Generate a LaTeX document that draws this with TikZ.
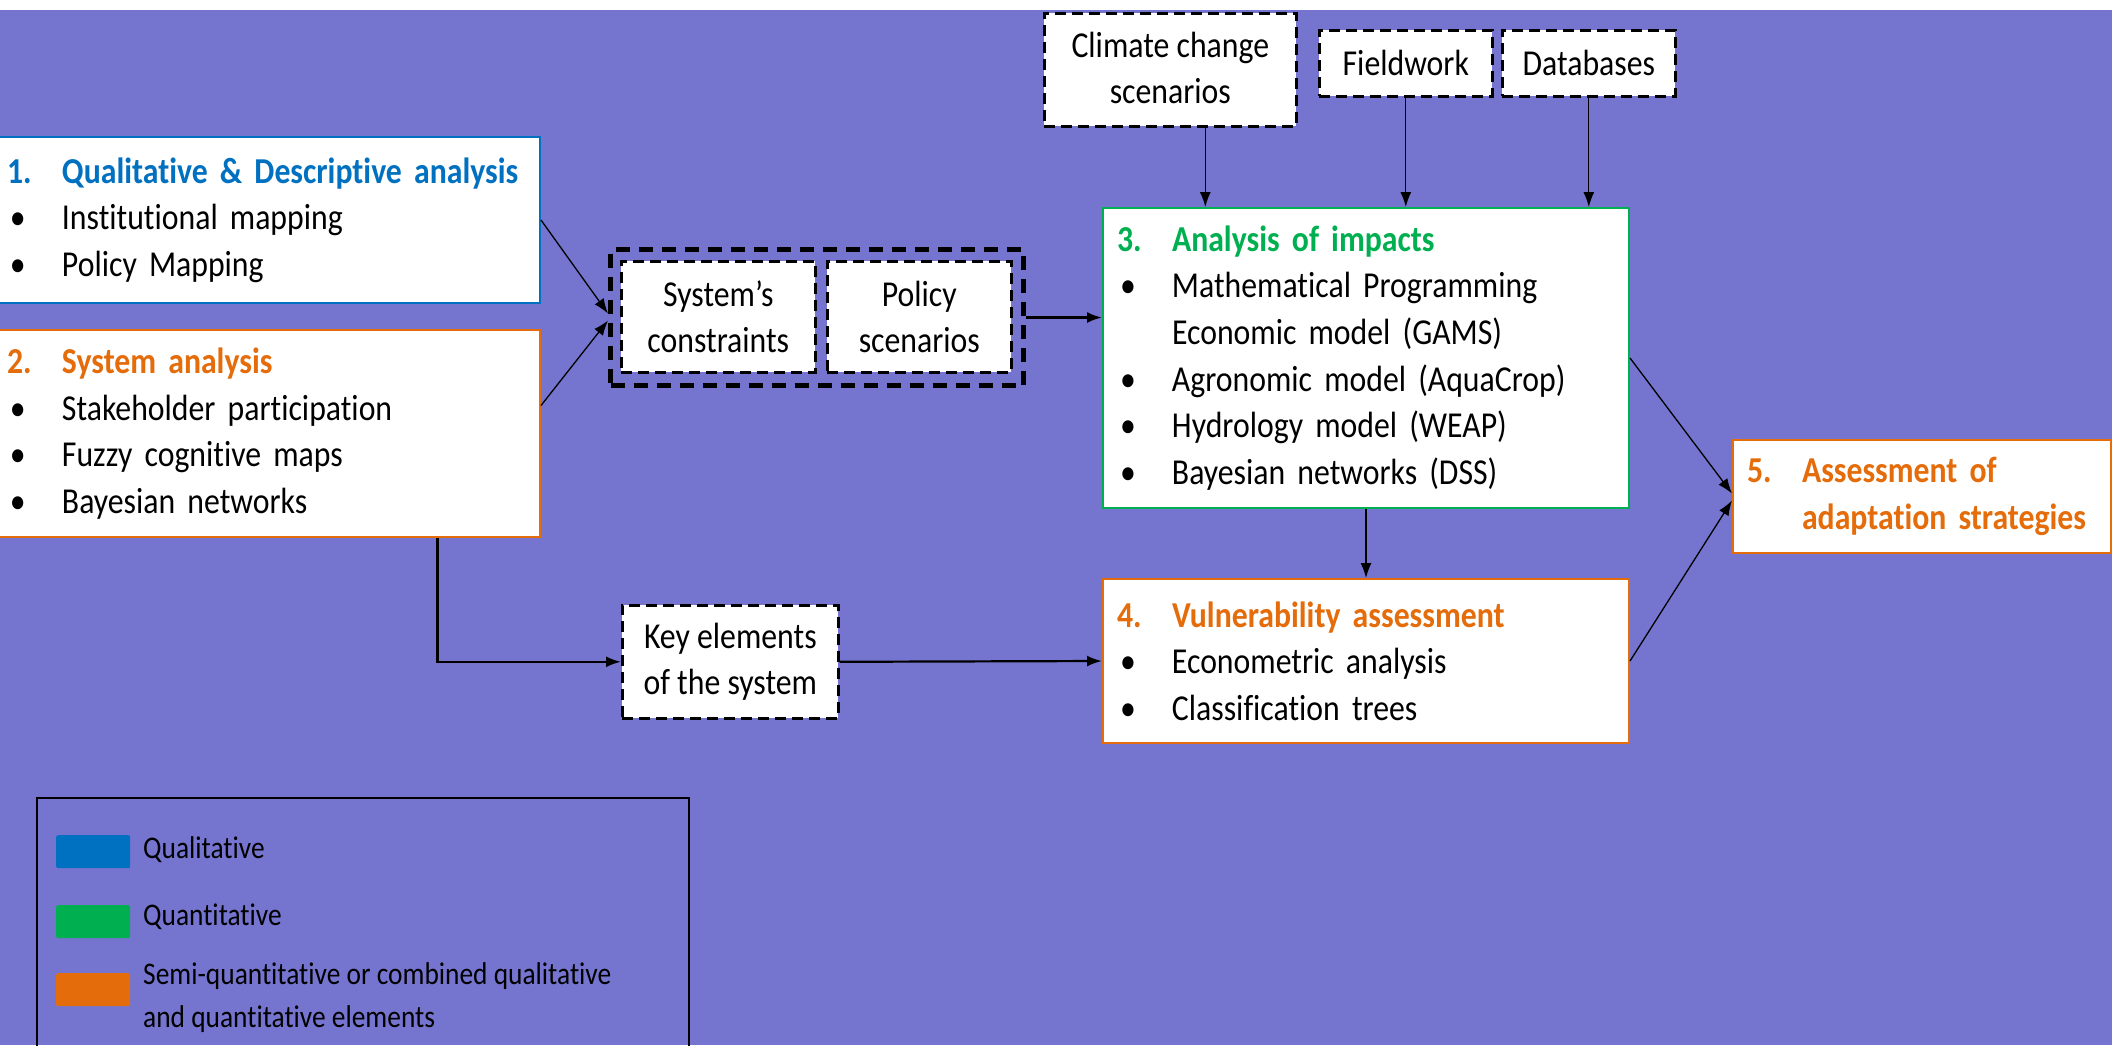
\documentclass[tikz,border=0pt]{standalone}
\usepackage{fontspec}
\setmainfont{Carlito}[FakeStretch=0.87, Ligatures={TeX,NoCommon}]
\usetikzlibrary{arrows.meta}

\definecolor{bgpurple}{RGB}{117,117,208}
\definecolor{qualblue}{RGB}{0,112,192}
\definecolor{quantgreen}{RGB}{0,176,80}
\definecolor{semiorange}{RGB}{228,108,10}

\newcommand{\bodysize}{\fontsize{36.5}{46.6}\selectfont}
\newcommand{\legendsize}{\fontsize{31.5}{43}\selectfont}
\newcommand{\numitem}[2]{\makebox[55pt][l]{#1}#2}
\newcommand{\bullitem}[1]{\makebox[55pt][l]{\hspace{3pt}\textbullet}#1}

\begin{document}
\begin{tikzpicture}[
    x=1pt, y=-1pt,
    block/.style={draw, line width=2pt, fill=white, rectangle, anchor=north west, align=left, inner xsep=14pt, inner ysep=0pt, font=\bodysize},
    inbox/.style={draw, line width=2.6pt, dash pattern=on 11pt off 6pt, fill=white, rectangle, anchor=north west, align=center, inner sep=0pt, font=\bodysize},
    groupbox/.style={draw, line width=5pt, dash pattern=on 14pt off 9pt, rectangle, anchor=north west, inner sep=0pt},
    swatch/.style={rectangle, rounded corners=2pt, anchor=north west, minimum width=74pt, minimum height=33pt, inner sep=0pt},
    legtext/.style={anchor=west, align=left, inner sep=0pt, font=\legendsize},
    line/.style={draw, line width=1.3pt, -{Latex[length=15pt,width=11pt]}},
    thickline/.style={draw, line width=2.2pt, -{Latex[length=15pt,width=11pt]}}
]

\useasboundingbox (0,0) rectangle (2112,1045);
\fill[white] (0,0) rectangle (2112,1045);
\fill[bgpurple] (0,10) rectangle (2112,1045);

\node[block, draw=qualblue, text width=519pt, minimum height=166pt] (qual) at (-8,136) {\textbf{\color{qualblue}\numitem{1.}{Qualitative \& Descriptive analysis}}\\\bullitem{Institutional mapping}\\\bullitem{Policy Mapping}};
\node[block, draw=semiorange, text width=519pt, minimum height=207pt] (sysa) at (-8,329) {\textbf{\color{semiorange}\numitem{2.}{System analysis}}\\\bullitem{Stakeholder participation}\\\bullitem{Fuzzy cognitive maps}\\\bullitem{Bayesian networks}};

\node[groupbox, minimum width=413pt, minimum height=136pt] (grp) at (608,247) {};
\node[inbox, minimum width=194pt, minimum height=111pt] (sysc) at (620,260) {System's\\constraints};
\node[inbox, minimum width=184pt, minimum height=111pt] (pol) at (826,260) {Policy\\scenarios};

\node[inbox, minimum width=252pt, minimum height=113pt] (clim) at (1043,12) {\raisebox{4pt}{Climate change}\\\raisebox{4pt}{scenarios}};
\node[inbox, minimum width=173pt, minimum height=66pt] (field) at (1318,29) {Fieldwork};
\node[inbox, minimum width=173pt, minimum height=66pt] (db) at (1501,29) {Databases};

\node[block, draw=quantgreen, text width=498pt, minimum height=300pt] (impact) at (1102,207) {\textbf{\color{quantgreen}\numitem{3.}{Analysis of impacts}}\\\bullitem{Mathematical Programming}\\\numitem{}{Economic model (GAMS)}\\\bullitem{Agronomic model (AquaCrop)}\\\bullitem{Hydrology model (WEAP)}\\\bullitem{Bayesian networks (DSS)}};
\node[block, draw=semiorange, text width=498pt, minimum height=164pt] (vuln) at (1102,578) {\textbf{\color{semiorange}\numitem{4.}{Vulnerability assessment}}\\\bullitem{Econometric analysis}\\\bullitem{Classification trees}};
\node[inbox, minimum width=216pt, minimum height=113pt] (keys) at (621,604) {Key elements\\of the system};
\node[block, draw=semiorange, text width=350pt, minimum height=113pt] (assess) at (1732,439) {\textbf{\color{semiorange}\numitem{5.}{Assessment of}\\\numitem{}{adaptation strategies}}};

\node[draw, line width=1.5pt, anchor=north west, minimum width=652pt, minimum height=262pt, inner sep=0pt] (legend) at (36,797) {};
\node[swatch, fill=qualblue] (swqual) at (56,835) {};
\node[swatch, fill=quantgreen] (swquant) at (56,905) {};
\node[swatch, fill=semiorange] (swsemi) at (56,973) {};
\node[legtext] (lgqual) at (143,850) {Qualitative};
\node[legtext] (lgquant) at (143,917) {Quantitative};
\node[legtext] (lgsemi) at (143,998) {Semi-quantitative or combined qualitative\\and quantitative elements};

\draw[line] (qual.east) -- ([yshift=4pt]grp.west);
\draw[line] ([yshift=28pt]sysa.east) -- ([yshift=-3pt]grp.west);
\draw[thickline] (grp.east) -- (grp.east -| impact.west);

\coordinate (climout) at ([xshift=35pt]clim.south);
\draw[line] (climout) -- (climout |- impact.north);
\draw[line] (field.south) -- (field.south |- impact.north);
\draw[line] (db.south) -- (db.south |- impact.north);
\draw[line] (impact.south) -- (vuln.north);

\draw[thickline] ([xshift=171pt]sysa.south) |- (keys.west);
\draw[thickline] (keys.east) -- (vuln.west);

\draw[line] (impact.east) -- ([yshift=3pt]assess.west);
\draw[line] (vuln.east) -- ([yshift=-4pt]assess.west);

\end{tikzpicture}
\end{document}
